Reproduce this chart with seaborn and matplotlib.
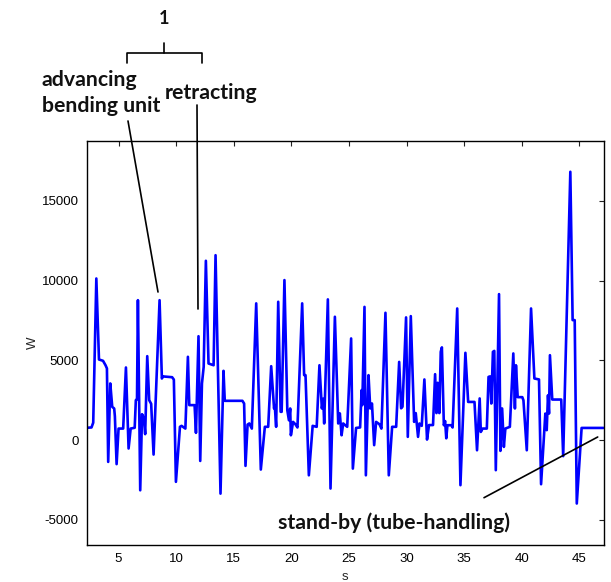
import matplotlib
matplotlib.use("Agg")
import matplotlib.pyplot as plt
import seaborn as sns
import pandas as pd
from matplotlib.lines import Line2D

# ---- data ----
time_s = [2.26, 2.65, 2.80, 3.07, 3.30, 3.65, 3.87, 3.99, 4.10, 4.28, 4.45, 4.62, 4.68, 4.83,
          5.00, 5.40, 5.64, 5.87, 6.05, 6.40, 6.50, 6.60, 6.68, 6.88, 7.04, 7.20, 7.31, 7.49,
          7.66, 7.83, 8.04, 8.56, 8.76, 8.85, 9.65, 9.80, 9.98, 10.33, 10.47, 10.80, 11.02,
          11.14, 11.60, 11.72, 11.94, 12.09, 12.24, 12.39, 12.58, 12.81, 13.25, 13.42, 13.85,
          14.11, 14.22, 15.75, 15.90, 16.02, 16.20, 16.35, 16.57, 16.95, 17.35, 17.70, 17.99,
          18.25, 18.50, 18.56, 18.68, 18.86, 19.07, 19.16, 19.40, 19.65, 19.79, 19.90, 19.96,
          20.15, 20.35, 20.53, 20.94, 21.11, 21.23, 21.52, 21.85, 22.20, 22.44, 22.65, 22.77,
          22.85, 23.17, 23.40, 23.78, 24.07, 24.21, 24.36, 24.50, 24.85, 25.19, 25.34, 25.62,
          25.97, 26.10, 26.16, 26.35, 26.47, 26.70, 26.85, 27.00, 27.19, 27.36, 27.65, 27.82,
          28.17, 28.46, 28.75, 29.10, 29.36, 29.53, 29.65, 29.96, 30.11, 30.37, 30.66, 30.80,
          31.00, 31.12, 31.32, 31.55, 31.78, 31.95, 32.30, 32.48, 32.60, 32.70, 32.85, 32.97,
          33.07, 33.24, 33.35, 33.45, 33.55, 33.90, 34.00, 34.40, 34.68, 35.11, 35.35, 35.90,
          36.12, 36.35, 36.45, 36.60, 36.97, 37.12, 37.25, 37.36, 37.50, 37.62, 37.75, 38.03,
          38.15, 38.30, 38.45, 38.58, 38.97, 39.27, 39.41, 39.50, 39.65, 40.05, 40.15, 40.44,
          40.81, 41.10, 41.50, 41.68, 42.05, 42.17, 42.28, 42.37, 42.45, 42.65, 43.43, 43.60,
          44.22, 44.42, 44.60, 44.78, 45.20, 47.10]
power_w = [780, 800, 1100, 10140, 5060, 4980, 4700, 4500, -1360, 3560, 2090, 1990, 1500, -1500,
           730, 730, 4560, -520, 730, 780, 2510, 2560, 8780, -3140, 1630, 1380, 380, 5270,
           2510, 2280, -900, 8780, 3870, 4000, 3950, 3800, -2610, 840, 900, 730, 5230,
           2200, 2200, 460, 6520, -1300, 3560, 4600, 11250, 4810, 4700, 11600, -3350,
           4350, 2470, 2470, 2300, -1610, 980, 1050, 730, 8580, -1840, 840, 840,
           4640, 1990, 2200, 840, 8680, 1780, 1780, 10040, 1880, 1250, 1990, 310,
           1150, 1000, 800, 8580, 4080, 4080, -2200, 900, 840, 4700, 1990, 2600,
           1050, 8830, -3030, 7740, 1050, 1680, 310, 1050, 840, 6380, -1780, 770,
           800, 3140, 2200, 8360, -2200, 4080, 1990, 2300, -310, 1150, 1000, 730,
           7990, -2200, 840, 840, 4910, 2000, 2100, 7700, 210, 7780, 1150, 1700,
           210, 1050, 900, 3810, 40, 950, 950, 4140, 1700, 3600, 1700, 5540,
           5820, 940, 1200, 120, 940, 940, 800, 8260, -2820, 5480, 2400, 2400,
           -630, 2620, 520, 730, 730, 3970, 4000, 2300, 5540, 5600, -1880, 9160,
           -670, 1990, -420, 730, 840, 5440, 1990, 4700, 2700, 2700, 2500, -630,
           8260, 3870, 3810, -2760, 1670, 630, 2820, 1670, 5330, 2550, 2550, -1000,
           16830, 7530, 7530, -3970, 770, 770]

x_ticks = [5, 10, 15, 20, 25, 30, 35, 40, 45]
y_ticks = [-5000, 0, 5000, 10000, 15000]
x_label = "s"
y_label = "W"
bracket_label = "1"
label_advancing = ["advancing", "bending unit"]
label_retracting = "retracting"
label_standby = "stand-by (tube-handling)"

df = pd.DataFrame({"s": time_s, "W": power_w})

sns.set_theme(style="white")
plt.rcParams["font.family"] = ["Liberation Sans", "DejaVu Sans"]
plt.rcParams["axes.unicode_minus"] = False

W_PX, H_PX = 611, 582
fig = plt.figure(figsize=(W_PX / 100, H_PX / 100), dpi=100)
ax = fig.add_axes([87 / W_PX, 1 - 545 / H_PX, (603.5 - 87) / W_PX, (545 - 141) / H_PX])

sns.lineplot(data=df, x="s", y="W", ax=ax, color="#0000ff", linewidth=1.9,
             sort=False, estimator=None)

ax.set_xlim(2.26, 47.1)
ax.set_ylim(-6570, 18760)
ax.set_xticks(x_ticks)
ax.set_yticks(y_ticks)
ax.set_xticklabels([str(t) for t in x_ticks])
ax.set_yticklabels([str(t) for t in y_ticks])
ax.tick_params(direction="in", length=3.5, width=0.8, top=True, right=True,
               labelsize=9.5, colors="#222222", labelcolor="black", pad=6)
for sp in ax.spines.values():
    sp.set_visible(True)
    sp.set_color("black")
    sp.set_linewidth(1.0)
ax.set_xlabel(x_label, fontsize=9.5, labelpad=4)
ax.set_ylabel(y_label, fontsize=9.5, labelpad=2)


def fx(px):
    return px / W_PX


def fy(py):
    return 1 - py / H_PX


bold = dict(fontfamily=["Lato", "DejaVu Sans"], fontweight="bold", color="#111111")
big = 15.3
fig.text(fx(164), fy(24), bracket_label, ha="center", va="baseline", fontsize=13, **bold)
fig.text(fx(42), fy(86.5), label_advancing[0], ha="left", va="baseline", fontsize=big, **bold)
fig.text(fx(42), fy(112.5), label_advancing[1], ha="left", va="baseline", fontsize=big, **bold)
fig.text(fx(165), fy(98.5), label_retracting, ha="left", va="baseline", fontsize=big, **bold)
fig.text(fx(278), fy(529), label_standby, ha="left", va="baseline", fontsize=big, **bold)

lk = dict(color="black", linewidth=1.2, transform=fig.transFigure)
# bracket
fig.add_artist(Line2D([fx(126.7), fx(126.7), fx(201.7), fx(201.7)],
                      [fy(62.5), fy(52.5), fy(52.5), fy(62.5)], **lk))
fig.add_artist(Line2D([fx(164), fx(164)], [fy(52.5), fy(43)], **lk))
# pointer lines
fig.add_artist(Line2D([fx(128), fx(158)], [fy(121), fy(292)], **lk))
fig.add_artist(Line2D([fx(197), fx(198)], [fy(105), fy(309)], **lk))
fig.add_artist(Line2D([fx(484), fx(597.7)], [fy(497.7), fy(437)], **lk))

fig.savefig("out.png", dpi=100)
